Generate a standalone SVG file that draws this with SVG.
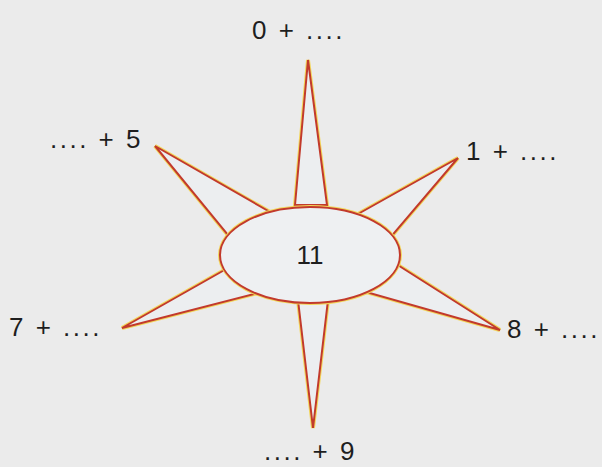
<svg xmlns="http://www.w3.org/2000/svg" width="602" height="467" viewBox="0 0 602 467">
<style>
.ray{fill:#eceef0;stroke:#c23a2c;stroke-width:2;stroke-linejoin:miter}
.rayg{fill:none;stroke:#f2d65a;stroke-width:4;stroke-linejoin:miter}
.lbl{font-family:"Liberation Sans",Arial,sans-serif;font-size:26px;letter-spacing:2.5px;fill:#1e1e1e}
</style>
<rect width="602" height="467" fill="#ebebeb"/>
<g id="rays">
<polygon class="rayg" points="295,205 308,60 327,205"/>
<polygon class="rayg" points="298,300 313,428 328,300"/>
<polygon class="rayg" points="270,212 155,146 232,240"/>
<polygon class="rayg" points="358,214 458,158 390,238"/>
<polygon class="rayg" points="228,268 122,328 262,292"/>
<polygon class="rayg" points="393,262 500,330 366,292"/>
<polygon class="ray" points="295,205 308,60 327,205"/>
<polygon class="ray" points="298,300 313,428 328,300"/>
<polygon class="ray" points="270,212 155,146 232,240"/>
<polygon class="ray" points="358,214 458,158 390,238"/>
<polygon class="ray" points="228,268 122,328 262,292"/>
<polygon class="ray" points="393,262 500,330 366,292"/>
</g>
<g id="center">
<ellipse cx="310" cy="255" rx="90" ry="48" fill="#eef0f2" stroke="#f2d65a" stroke-width="4"/>
<ellipse cx="310" cy="255" rx="90" ry="48" fill="#eef0f2" stroke="#c23a2c" stroke-width="2"/>
<text class="lbl" x="310" y="264" text-anchor="middle" style="letter-spacing:0">11</text>
</g>
<g id="labels">
<text class="lbl" x="252" y="39">0 + ....</text>
<text class="lbl" x="466" y="160">1 + ....</text>
<text class="lbl" x="50" y="148">.... + 5</text>
<text class="lbl" x="9" y="336">7 + ....</text>
<text class="lbl" x="507" y="338">8 + ....</text>
<text class="lbl" x="264" y="460">.... + 9</text>
</g>
</svg>
